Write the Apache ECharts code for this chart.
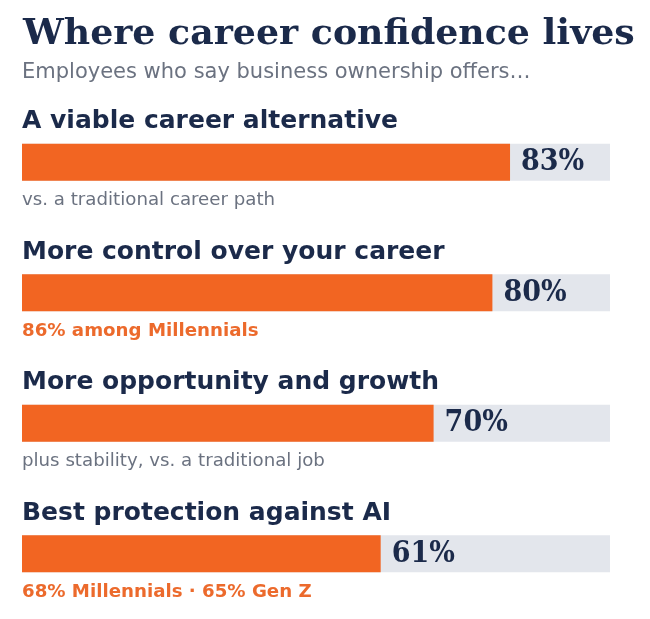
<!DOCTYPE html>
<html>
<head>
<meta charset="utf-8">
<script src="https://cdn.jsdelivr.net/npm/echarts@6/dist/echarts.min.js"></script>
<style>
  html, body { margin: 0; padding: 0; background: #fff; }
  #chart { width: 650px; height: 619px; }
</style>
</head>
<body>
<div id="chart"></div>
<script>
// share of employees, per reason
const reasons = [
  'A viable career alternative',
  'More control over your career',
  'More opportunity and growth',
  'Best protection against AI'
]
const shares = [83, 80, 70, 61]
const notes = [
  'vs. a traditional career path',
  '86% among Millennials',
  'plus stability, vs. a traditional job',
  '68% Millennials · 65% Gen Z'
]
// 'context' notes are grey, 'segment' notes call out a generation
const noteKinds = ['context', 'segment', 'context', 'segment']
const fullScale = [100, 100, 100, 100]

const NAVY = '#1b2a4a'
const ORANGE = '#f26522'
const GREY = '#6b7280'
const TRACK = '#e3e6ec'
const SANS = '"DejaVu Sans", sans-serif'
const SERIF = '"DejaVu Serif", serif'
const SERIF_COND = '"DejaVu Serif Condensed", "DejaVu Serif", serif'

const chart = echarts.init(document.getElementById('chart'))

chart.setOption({
  animation: false,
  title: [
    {
      text: 'Where career confidence lives',
      left: 18, top: 12,
      textStyle: { fontFamily: SERIF, fontWeight: 'bold', fontSize: 36.3, color: NAVY }
    },
    {
      text: 'Employees who say business ownership offers…',
      left: 17, top: 57,
      textStyle: { fontFamily: SANS, fontWeight: 'normal', fontSize: 21, color: GREY }
    }
  ],
  grid: { left: 22, right: 40, top: 97, bottom: 0 },
  xAxis: { type: 'value', min: 0, max: 100, show: false },
  yAxis: { type: 'category', data: reasons, inverse: true, show: false },
  series: [
    {
      // grey track + heading above it
      type: 'bar', barWidth: 37, barGap: '-100%', silent: true,
      data: fullScale,
      itemStyle: { color: TRACK },
      label: {
        show: true, position: [0, -22], align: 'left', verticalAlign: 'middle',
        formatter: p => reasons[p.dataIndex],
        fontFamily: SANS, fontWeight: 'bold', fontSize: 25, color: NAVY
      }
    },
    {
      // invisible overlay carrying the note under each bar
      type: 'bar', barWidth: 37, barGap: '-100%', silent: true,
      data: fullScale,
      itemStyle: { color: 'transparent' },
      label: {
        show: true, position: [0, 57], align: 'left', verticalAlign: 'middle',
        formatter: p => '{' + noteKinds[p.dataIndex] + '|' + notes[p.dataIndex] + '}',
        rich: {
          context: { fontFamily: SANS, fontSize: 18.2, color: GREY },
          segment: { fontFamily: SANS, fontSize: 18.2, fontWeight: 'bold', color: '#ec6a2c' }
        }
      }
    },
    {
      type: 'bar', barWidth: 37, barGap: '-100%',
      data: shares,
      itemStyle: { color: ORANGE },
      label: {
        show: true, position: 'right', distance: 11,
        formatter: p => p.value + '%',
        fontFamily: SERIF_COND, fontWeight: 'bold', fontSize: 30, color: NAVY
      }
    }
  ]
})
</script>
</body>
</html>
